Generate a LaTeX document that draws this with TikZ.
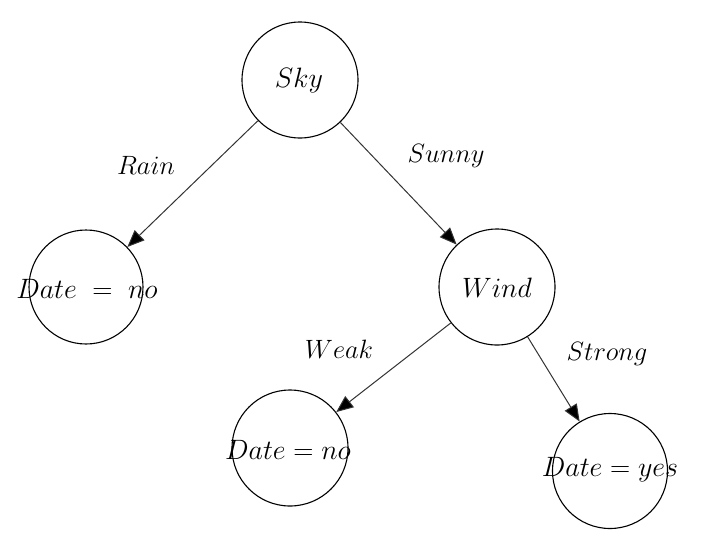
\RequirePackage{fix-cm}
\documentclass[tikz,border=0pt]{standalone}
\usetikzlibrary{arrows.meta}
\begin{document}
\begin{tikzpicture}[x=1pt,y=-1pt,
  circ/.style={circle,draw=black,line width=1.1pt,minimum size=#1,inner sep=0pt},
  circ/.default=116pt,
  txt/.style={font=\fontsize{28}{32}\selectfont,inner sep=0pt},
  lbl/.style={font=\fontsize{26.5}{30}\selectfont,inner sep=0pt},
  edge/.style={draw=black!80,line width=1pt,-{Triangle[length=17pt,width=14pt,fill=black]}}]
\useasboundingbox (0,0) rectangle (706,544);
\node[circ] (sky) at (300,80) {};
\node[circ=114pt] (dl) at (86,287) {};
\node[circ] (wind) at (497,287) {};
\node[circ] (db) at (290,448) {};
\node[circ=115pt] (dy) at (610,471) {};
\node[txt] (tsky) at (299,80) {$Sky$};
\node[txt] (tdl) at (87,289) {$Date\;=\;no$};
\node[txt] (twind) at (497,288) {$Wind$};
\node[txt] (tdb) at (288,450) {$Date=no$};
\node[txt] (tdy) at (610,470) {$Date=yes$};
\node[lbl] (lrain) at (146,165) {$Rain$};
\node[lbl] (lsunny) at (446,156) {$Sunny$};
\node[lbl] (lweak) at (339,349) {$Weak$};
\node[lbl] (lstrong) at (607,354) {$Strong$};
\draw[edge] (sky) -- (dl);
\draw[edge] (sky) -- (wind);
\draw[edge] (wind) -- (db);
\draw[edge] (wind) -- (dy);
\end{tikzpicture}
\end{document}
